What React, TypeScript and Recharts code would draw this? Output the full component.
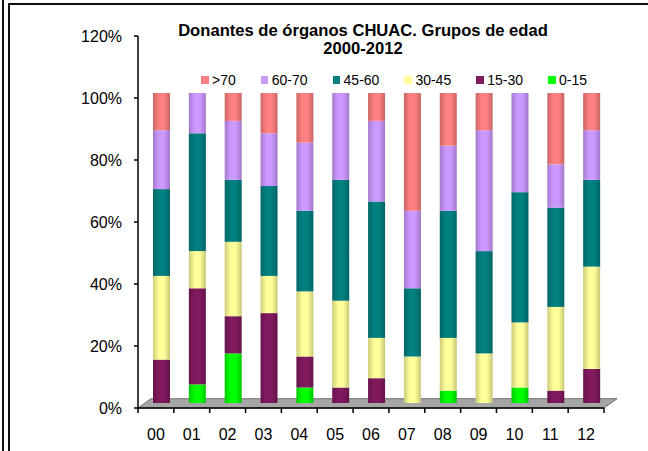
import React from 'react';
import { BarChart, Bar, XAxis, YAxis, ReferenceArea } from 'recharts';

// años 2000-2012, porcentaje de donantes por grupo de edad
const years = ['00', '01', '02', '03', '04', '05', '06', '07', '08', '09', '10', '11', '12'];
const age0to15 = [0, 6, 16, 0, 5, 0, 0, 0, 4, 0, 5, 0, 0];
const age15to30 = [14, 31, 12, 29, 10, 5, 8, 0, 0, 0, 0, 4, 11];
const age30to45 = [27, 12, 24, 12, 21, 28, 13, 15, 17, 16, 21, 27, 33];
const age45to60 = [28, 38, 20, 29, 26, 39, 44, 22, 41, 33, 42, 32, 28];
const age60to70 = [19, 13, 19, 17, 22, 28, 26, 25, 21, 39, 32, 14, 16];
const ageOver70 = [12, 0, 9, 13, 16, 0, 9, 38, 17, 12, 0, 23, 12];

const seriesNames = ['0-15', '15-30', '30-45', '45-60', '60-70', '>70'];
const seriesValues = [age0to15, age15to30, age30to45, age45to60, age60to70, ageOver70];
const seriesColors = ['#00FF00', '#80195E', '#FFFF99', '#008080', '#CC99FF', '#FF8080'];
const yTicks = [0, 20, 40, 60, 80, 100, 120];

const data = years.map((year, i) => {
  const row: Record<string, string | number> = { year };
  seriesNames.forEach((_, s) => {
    row['s' + s] = seriesValues[s][i];
  });
  return row;
});

const FONT = '"Liberation Sans", Arial, Helvetica, sans-serif';
const W = 648;
const H = 451;
const MARGIN = { top: 36, right: 44, bottom: 0, left: 0 };
const Y_AXIS_W = 138;
const X_AXIS_H = 43;
const BAND = (W - MARGIN.left - MARGIN.right - Y_AXIS_W) / years.length;

if (typeof document !== 'undefined') document.body.style.margin = '0';

function shade(hex: string, f: number) {
  const n = parseInt(hex.slice(1), 16);
  const r = Math.round(((n >> 16) & 255) * f);
  const g = Math.round(((n >> 8) & 255) * f);
  const b = Math.round((n & 255) * f);
  return `rgb(${r},${g},${b})`;
}

// columna con un poco de desplazamiento, como el 3D de Excel
function Cylinder(props: any) {
  const { x, y, width, height, fill } = props;
  if (!height || height <= 0) return null;
  return <rect x={x + 6} y={y - 5} width={width} height={height} fill={fill} />;
}

function Floor(props: any) {
  const { x, y, width, height } = props;
  const d = 13;
  return (
    <polygon
      points={`${x},${y + height} ${x + width},${y + height} ${x + width + d},${y} ${x + d},${y}`}
      fill="#A6A6A6"
      stroke="#555"
      strokeWidth={0.8}
    />
  );
}

function YearTick(props: any) {
  const { x, y, payload, index } = props;
  const axisY = y - 21;
  const left = x - BAND / 2;
  const right = x + BAND / 2;
  return (
    <g>
      <line x1={left} y1={axisY} x2={left} y2={axisY + 5} stroke="#000" strokeWidth={1.5} />
      {index === years.length - 1 && (
        <line x1={right} y1={axisY} x2={right} y2={axisY + 5} stroke="#000" strokeWidth={1.5} />
      )}
      <text x={x} y={y} dy="0.71em" textAnchor="middle" fontSize={16} fontFamily={FONT} fill="#000">
        {payload.value}
      </text>
    </g>
  );
}

export default function App() {
  const legendOrder = [...seriesNames.keys()].reverse();

  return (
    <div style={{ position: 'relative', width: W, height: H, overflow: 'hidden', background: '#fff' }}>
      <div style={{ position: 'absolute', left: 2, top: 0, width: 2, height: H, background: '#111' }} />
      <div
        style={{
          position: 'absolute',
          left: 8,
          top: 3,
          width: W - 8,
          height: H - 3,
          borderLeft: '2px solid #111',
          borderTop: '2px solid #111',
          boxSizing: 'border-box'
        }}
      />

      <BarChart width={W} height={H} data={data} margin={MARGIN} barSize={17}>
        <defs>
          {seriesColors.map((c, s) => (
            <linearGradient key={s} id={`cyl${s}`} x1="0" y1="0" x2="1" y2="0">
              <stop offset="0%" stopColor={shade(c, 0.8)} />
              <stop offset="35%" stopColor={c} />
              <stop offset="65%" stopColor={c} />
              <stop offset="100%" stopColor={shade(c, 0.78)} />
            </linearGradient>
          ))}
        </defs>
        <ReferenceArea y1={0} y2={3} shape={<Floor />} ifOverflow="visible" />
        <XAxis
          dataKey="year"
          height={X_AXIS_H}
          interval={0}
          tickSize={5}
          tickMargin={16}
          tickLine={false}
          axisLine={{ stroke: '#000', strokeWidth: 1.5 }}
          tick={<YearTick />}
        />
        <YAxis
          width={Y_AXIS_W}
          domain={[0, 120]}
          ticks={yTicks}
          interval={0}
          tickFormatter={(v: number) => `${v}%`}
          tickSize={4}
          tickMargin={12}
          axisLine={{ stroke: '#000', strokeWidth: 1.5 }}
          tickLine={{ stroke: '#000', strokeWidth: 1.5 }}
          tick={{ fontSize: 16, fill: '#000', fontFamily: FONT }}
        />
        {seriesNames.map((name, s) => (
          <Bar
            key={name}
            dataKey={'s' + s}
            name={name}
            stackId="edad"
            fill={`url(#cyl${s})`}
            shape={<Cylinder />}
            isAnimationActive={false}
          />
        ))}
      </BarChart>

      <div
        style={{
          position: 'absolute',
          left: 163,
          top: 22,
          width: 400,
          textAlign: 'center',
          fontFamily: FONT,
          fontWeight: 'bold',
          fontSize: 16.6,
          lineHeight: '18px',
          color: '#000'
        }}
      >
        Donantes de órganos CHUAC. Grupos de edad
        <br />
        2000-2012
      </div>

      <div
        style={{
          position: 'absolute',
          left: 201,
          top: 72,
          height: 16,
          display: 'flex',
          alignItems: 'center',
          fontFamily: FONT,
          fontSize: 14,
          color: '#000',
          whiteSpace: 'nowrap'
        }}
      >
        {legendOrder.map(s => (
          <div key={s} style={{ display: 'flex', alignItems: 'center', marginRight: 25 }}>
            <span style={{ width: 7.5, height: 7.5, background: seriesColors[s], marginRight: 3.5 }} />
            <span>{seriesNames[s]}</span>
          </div>
        ))}
      </div>
    </div>
  );
}
